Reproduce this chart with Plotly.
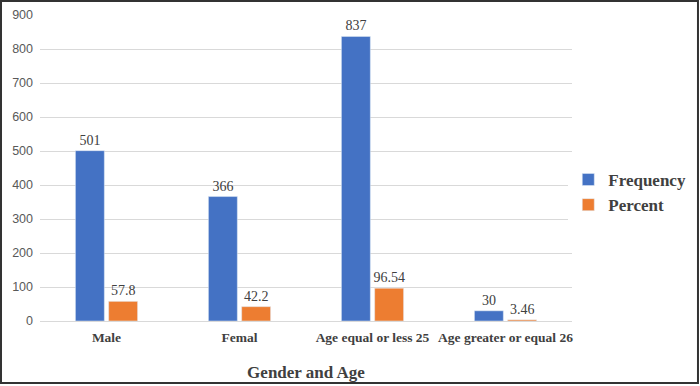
import plotly.graph_objects as go

categories = ["Male", "Femal", "Age equal or less 25", "Age greater or equal 26"]
frequency = [501, 366, 837, 30]
percent = [57.8, 42.2, 96.54, 3.46]
freq_labels = ["501", "366", "837", "30"]
pct_labels = ["57.8", "42.2", "96.54", "3.46"]
y_ticks = [0, 100, 200, 300, 400, 500, 600, 700, 800, 900]

serif = "Liberation Serif, Times New Roman, serif"
sans = "Liberation Sans, Arial, sans-serif"

fig = go.Figure()
fig.add_trace(go.Bar(
    name="<b>Frequency</b>", x=categories, y=frequency, marker_color="#4472C4",
    text=freq_labels, textposition="outside", cliponaxis=False, constraintext="none",
    textfont=dict(family=serif, size=14, color="#404040"),
))
fig.add_trace(go.Bar(
    name="<b>Percent</b>", x=categories, y=percent, marker_color="#ED7D31",
    text=pct_labels, textposition="outside", cliponaxis=False, constraintext="none",
    textfont=dict(family=serif, size=14, color="#404040"),
))

fig.update_layout(
    width=700, height=386,
    margin=dict(l=40, r=128, t=15, b=65, autoexpand=False),
    paper_bgcolor="white", plot_bgcolor="white",
    barmode="group", bargap=0.5, bargroupgap=0.13,
    showlegend=True,
    legend=dict(x=0.993, y=0.42, xanchor="left", yanchor="middle",
                font=dict(family=serif, size=17, color="#404040"),
                tracegroupgap=6, itemwidth=30),
    xaxis=dict(
        title=dict(text="<b>Gender and Age</b>", font=dict(family=serif, size=17, color="#404040"), standoff=22),
        tickfont=dict(family=serif, size=13.5, color="#404040"),
        tickprefix="<b>", ticksuffix="</b>", ticklabelstandoff=6,
        showline=False, showgrid=False,
    ),
    yaxis=dict(
        range=[0, 900], tickvals=y_ticks,
        tickfont=dict(family=sans, size=12.5, color="#595959"),
        showgrid=True, gridcolor="#D9D9D9", gridwidth=1,
        zeroline=True, zerolinecolor="#D9D9D9", zerolinewidth=1,
        showline=False, ticks="", ticklabelstandoff=6,
    ),
)

fig.add_shape(type="rect", xref="paper", yref="paper",
              x0=-0.0733, x1=1.2368, y0=-0.2026, y1=1.0458,
              line=dict(color="#333333", width=2), fillcolor="rgba(0,0,0,0)")

fig.write_html("out.html", config={"displayModeBar": False},
               post_script="document.body.style.margin='0';document.body.style.overflow='hidden';")
